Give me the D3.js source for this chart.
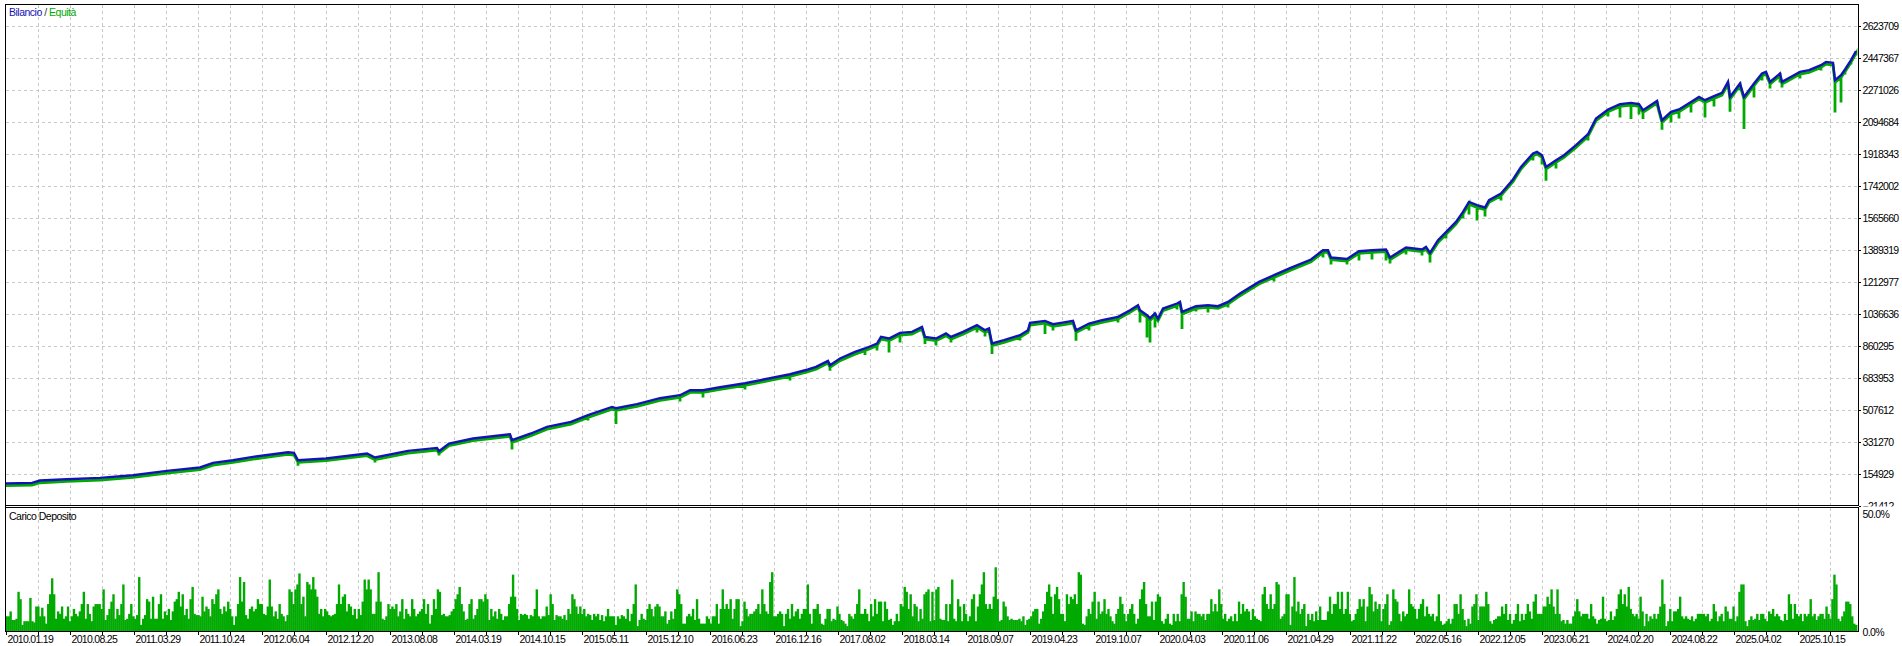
<!DOCTYPE html>
<html><head><meta charset="utf-8">
<script src="https://cdn.jsdelivr.net/npm/d3@7"></script>
<style>body{margin:0;background:#fff;overflow:hidden}svg{display:block}</style>
</head><body>
<svg id="c" width="1902" height="646"></svg>
<script>
// ---- data ----
const trades = [0,26,34,61,94,127,161,194,207,227,247,267,282,288,292,320,361,369,402,431,
433,443,467,504,506,525,541,565,582,606,610,631,654,674,684,697,714,739,764,784,
802,810,822,824,834,849,859,871,875,883,894,906,916,919,930,940,945,957,971,979,
983,986,998,1014,1022,1024,1039,1047,1055,1067,1070,1083,1096,1112,1124,1132,1134,1141,1144,1149,
1152,1157,1171,1174,1176,1190,1202,1212,1222,1234,1253,1268,1284,1305,1317,1322,1325,1341,1353,1366,
1380,1384,1400,1416,1420,1424,1432,1440,1450,1457,1463,1471,1479,1483,1495,1507,1515,1527,1531,1536,
1540,1550,1558,1570,1582,1590,1602,1614,1625,1633,1637,1651,1653,1656,1665,1673,1685,1693,1699,1708,
1716,1722,1724,1734,1738,1748,1756,1760,1764,1774,1776,1782,1794,1803,1815,1820,1827,1829,1835,1839,
1845,1850];
const balance = [100000,103000,116000,123500,130700,145600,169300,188000,213300,228200,246400,261300,272300,268400,228200,237600,265100,243100,279500,296000,
277800,320200,347800,371500,338400,375400,411700,439300,476200,521900,514800,536800,569900,586400,614000,614000,630500,652500,680100,702100,
728000,742400,775400,751700,788700,825000,843800,871300,907700,898900,929700,935200,962800,907700,898900,926400,907700,935200,972200,944600,
954000,871300,889500,917100,944600,984800,995900,977700,984800,995900,944600,981500,999700,1017900,1054800,1082400,1054800,1027300,1010700,1036600,
1009100,1064200,1091700,1100600,1045500,1076900,1082400,1076900,1100600,1146800,1210800,1247700,1286300,1334200,1385500,1385500,1345200,1337500,1379900,1385500,
1389300,1345200,1400300,1389300,1403600,1370600,1440600,1484700,1541400,1596500,1651600,1633400,1620800,1661000,1697900,1775100,1844500,1918300,1927200,1909000,
1844500,1881400,1909000,1964100,2024700,2111200,2160800,2190000,2197200,2190000,2157000,2208200,2160800,2101800,2147600,2160800,2202700,2230200,2212100,2234100,
2252300,2312900,2230200,2304100,2230200,2304100,2359200,2368000,2312900,2359200,2312900,2331600,2368000,2377400,2404900,2423100,2417600,2322300,2349800,2381200,
2432500,2482100];
const equity = [100000,103000,116000,123500,123500,145600,162100,188000,213300,228200,246400,261300,272300,268400,210000,237600,265100,228200,279500,296000,
266800,320200,347800,371500,299900,375400,411700,439300,459700,521900,439300,536800,569900,564400,614000,586400,630500,630500,680100,680100,
728000,742400,775400,733500,788700,825000,819400,845400,907700,834400,889500,935200,962800,880100,873000,926400,889500,935200,944600,922600,
954000,825000,889500,900500,944600,984800,935200,955600,984800,995900,898900,955600,999700,999700,1054800,1082400,999700,917100,889500,972200,
1009100,1064200,1071400,1100600,962800,1060300,1054800,1076900,1082400,1146800,1210800,1225600,1286300,1334200,1357900,1385500,1319300,1319300,1341400,1346900,
1341400,1324800,1374400,1368900,1403600,1330400,1440600,1462600,1541400,1572800,1594900,1561800,1583800,1661000,1672000,1775100,1844500,1892400,1927200,1870400,
1780600,1848400,1909000,1964100,2002700,2111200,2134900,2129400,2120000,2145900,2120000,2190000,2160800,2061600,2101800,2123900,2157000,2230200,2129400,2190000,
2252300,2312900,2160800,2278200,2064900,2239600,2333300,2368000,2289200,2322300,2294700,2331600,2344300,2377400,2388400,2423100,2417600,2157000,2212100,2366400,
2421500,2471100];
const yTicks = [-21412,154929,331270,507612,683953,860295,1036636,1212977,1389319,1565660,1742002,1918343,2094684,2271026,2447367,2623709];
const dateLabels = ["2010.01.19","2010.08.25","2011.03.29","2011.10.24","2012.06.04","2012.12.20","2013.08.08","2014.03.19","2014.10.15","2015.05.11",
"2015.12.10","2016.06.23","2016.12.16","2017.08.02","2018.03.14","2018.09.07","2019.04.23","2019.10.07","2020.04.03","2020.11.06",
"2021.04.29","2021.11.22","2022.05.16","2022.12.05","2023.06.21","2024.02.20","2024.08.22","2025.04.02","2025.10.15"];
const loadTicks = [0, 50];
const loadPct = [
6,6,8,4.5,4.5,5,16,13,2.5,4,4,4,13.5,4,3.5,10,10,6,9.5,6,3,11,15,21.5,15,5,8,7,10,5,6,10,4,6,9,7,6,8,11,16,5,11,7,4,10,11,11,11,9,17,4.5,6.5,9,12,15,5,9,6.5,11,19,4.5,5,7,11,6,5,6.5,22,2.5,5,6.5,13,12,5,14,5,5,11,15,5,8,6.5,9,4.5,8,12,13,16,10,15,6.5,9,5,13,18,7,6.5,6.5,6,14,8,10,9,6,13,11,15,17,9,7,10,8,12,9,6,2.5,6,11,22,12,20,6.5,5,9,10,8,9,13,11,11,7,6.5,10,21,10,6,8,5,11,7,6,4,6.5,17,16,11,17,19,23.5,11,14,6,20,19,17,22,17,14,7,9,6,9,8,6.5,6,6.5,7,11,19,11,14,15,8,11,10,6.5,9,5,9,6.5,12,21,17,21,17,7,7,12,24,12,5,4.5,6,11,9,10,9,11,6,8,13,5,9,7,6,13,9,6,7,8,9,13,7,11,3,6.5,13,9,17,16,6.5,7,6,6,6.5,8,9,13,15,18,11,8,4.5,5,11,13,5,6.5,9,13,13,12,15,13,4.5,9,6,8,5,9,7,4.5,6,6,11,14,23,14,9,4.5,7,6.5,7,6.5,5,6.5,6,9,17,6,5,6,6,10,6.5,15,11,4.5,6.5,6,6,5,6.5,4.5,9,7,15,13,10,7,10,7,9,6,7,6.5,4.5,7,6,7,4.5,6.5,4,6,9,6,6,6,2.5,6,5,6.5,6,5,
9,4,7,11,19,2,4.5,7,5,4.5,9,11,9,6,10,11,10,6,6,8,3,4.5,8,5,9,17,15,11,3,3,6,7,6,9,4.5,13,5,3,3,3,6,5,3,6,6,11,3,9,17,9,11,9,13,5,9,13,13,2,4,12,9,6,7,7,8,9,11,7,17,11,8,7,20,24,6,6,7,8,7,2,7,9,5,11,6,8,9,5,7,9,9,19,7,3,9,9,11,7,3,2.5,5,9,9,4,5,4.5,10,7,4.5,4,3,2,7,6,5,7,11,17,7,7,9,7,4,11,6,13,7,12,12,4,12,9,4.5,5,2.5,4,7,4,11,10,18,16,9,15,6,11,10,4,9,5,15,16,17,4,16,4.5,17,18,5,4.5,4.5,11,4,11,21,5,4,13,10,4,11,7,4,6,13,15,4,10,15,19,24,11,9,11,9,14,26,13,4,4.5,12,10,6,4.5,5,4.5,4.5,4.5,5,4,6,2.5,4.5,5,6,8,9,9,3,5,8,11,16,19,14,7,15,18,13,7,7,4,15,11,14,13,15,11,24,23,3,2.5,6,9,7,12,16,5,12,7,8,13,7,9,6,4,3,7,9,14,11,7,4,7,9,11,7,3,5,13,17,20,11,6,6,12,4.5,12,15,14,4,3,5,7,3,2.5,7,4,7,4,15,20,14,5,5,8,4,8,7,7,6,7,4.5,7,7,13,8,11,8,17,11,5,7,4,5,6,4,7,4,12,7,11,
8,9,8,4.5,9,6,5,4.5,4,15,18,11,9,15,9,11,20,19,5,6,7,15,15,2.5,10,22,8,12,7,9,11,2,7,4.5,7,4,8,4.5,10,4.5,4.5,4.5,8,14,7,11,11,16,9,16,7,9,16,7,4,4.5,7,9,13,10,13,4,10,18,15,8,12,9,11,4,9,11,15,2.5,4,17,13,12,7,4,8,6,7,17,11,10,9,5,9,11,13,6,10,7,6,7,4,6,15,4,2.5,3,4,5,3,5,11,11,7,15,9,4.5,2,5,3,10,11,15,4.5,10,10,10,16,11,4,3,4.5,5,6,6,10,7,11,4.5,7,3,4.5,7,11,4,7,4.5,7,11,8,5,12,15,7,7,7,10,10,14,11,17,10,7,17,7,4,4.5,3,4.5,3,3,6,8,13,8,6,7,7,7,5,11,6,5,3,4.5,5,14,5,4,4.5,8,4.5,6,9,15,17,11,15,10,18,9,7,6,7,5,14,8,2,7,4,6,5,7,5,7,10,21,11,2,4,9,4,8,8,9,14,6,5,6,5,4.5,6,4,5,7,7,7,7,6,7,4,5,11,8,4,6,7,4,10,8,5,5,10,4,6,16,19,19,4,2,4.5,6,4.5,5,7,4.5,7,7,5,4,8,7,9,6,7,6,4.5,4,7,4.5,15,11,5,11,7,6,7,4,7,6,7,13,6,7,4.5,6,7,7,5,10,7,5,13,23,19,5,4,6,8,12,12,11,6,3,2.5];

// ---- layout ----
const svg = d3.select("#c");
const FONT = "'Liberation Sans', Arial, sans-serif";
const nTrades = 1852;
const x = d3.scaleLinear().domain([0, nTrades]).range([6, 1858]);
const y = d3.scaleLinear().domain([yTicks[0], yTicks[yTicks.length-1]]).range([505.5, 25.5]);
const ys = d3.scaleLinear().domain([0, 50]).range([631, 508.5]);
const xb = d3.scaleLinear().domain([0, loadPct.length]).range([5.5, 1857]);
const gridTrades = d3.range(32, nTrades, 32);
const tickTrades = d3.range(0, nTrades, 32);
const labelTrades = d3.range(0, dateLabels.length).map(i => i*64);

svg.append("rect").attr("width",1902).attr("height",646).attr("fill","#fff");

const defs = svg.append("defs");
defs.append("clipPath").attr("id","mainClip").append("rect").attr("x",6).attr("y",5).attr("width",1852).attr("height",500);
defs.append("clipPath").attr("id","lblClip").append("rect").attr("x",1859).attr("y",0).attr("width",43).attr("height",506.5);

const gridStyle = g => g.attr("stroke","#c8c8c8").attr("stroke-width",1).attr("stroke-dasharray","3,3").attr("shape-rendering","crispEdges");

// main grid
const gm = svg.append("g").call(gridStyle);
gm.selectAll("line.v").data(gridTrades).join("line").attr("class","v")
  .attr("x1",d=>Math.round(x(d))+0.5).attr("x2",d=>Math.round(x(d))+0.5).attr("y1",5).attr("y2",505);
gm.selectAll("line.h").data(yTicks.slice(1)).join("line").attr("class","h")
  .attr("x1",6).attr("x2",1858).attr("y1",d=>Math.round(y(d))+0.5).attr("y2",d=>Math.round(y(d))+0.5);
// sub grid
const gs = svg.append("g").call(gridStyle);
gs.selectAll("line").data(gridTrades).join("line")
  .attr("x1",d=>Math.round(x(d))+0.5).attr("x2",d=>Math.round(x(d))+0.5).attr("y1",508).attr("y2",631);

// equity (green) and balance (blue)
const pts = trades.map((t,i)=>({t, b:balance[i], e:equity[i]}));
const eqPath = [];
pts.forEach(p => { eqPath.push([p.t,p.b]); if (p.e < p.b) { eqPath.push([p.t,p.e]); eqPath.push([p.t,p.b]); } });
const line = d3.line().x(d=>x(d[0])).y(d=>y(d[1]));
const gc = svg.append("g").attr("clip-path","url(#mainClip)");
gc.append("path").attr("d", line(eqPath)).attr("fill","none").attr("stroke","#00aa00")
  .attr("stroke-width",2.8).attr("stroke-linejoin","miter").attr("transform","translate(0,2.2)");
gc.append("path").attr("d", line(pts.map(p=>[p.t,p.b]))).attr("fill","none").attr("stroke","#1414b4")
  .attr("stroke-width",2.4).attr("stroke-linejoin","miter");

// deposit load bars
svg.append("g").selectAll("rect").data(loadPct).join("rect")
  .attr("x",(d,i)=>xb(i)).attr("width",(d,i)=>xb(i+1)-xb(i)+0.4)
  .attr("y",d=>ys(d)).attr("height",d=>ys(0)-ys(d)).attr("fill","#00aa00");

// frames
const fr = svg.append("g").attr("fill","none").attr("stroke","#000").attr("stroke-width",1).attr("shape-rendering","crispEdges");
fr.append("rect").attr("x",5.5).attr("y",4.5).attr("width",1853).attr("height",501);
fr.append("rect").attr("x",5.5).attr("y",507.5).attr("width",1853).attr("height",124);
fr.append("line").attr("x1",5.5).attr("x2",5.5).attr("y1",4).attr("y2",632).attr("stroke-width",1.6);

// right axis ticks and labels (main)
const ax = svg.append("g");
ax.selectAll("line").data(yTicks).join("line")
  .attr("x1",1859).attr("x2",1861).attr("y1",d=>Math.round(y(d))+0.5).attr("y2",d=>Math.round(y(d))+0.5)
  .attr("stroke","#000").attr("shape-rendering","crispEdges");
ax.append("g").attr("clip-path","url(#lblClip)").selectAll("text").data(yTicks).join("text")
  .attr("x",1862.5).attr("y",d=>y(d)+0.5).attr("dominant-baseline","central")
  .attr("font-family",FONT).attr("font-size",10.5).attr("letter-spacing","-0.7px").attr("fill","#000")
  .text(d=>d3.format("d")(d));

// sub axis labels
svg.append("g").selectAll("text").data(loadTicks).join("text")
  .attr("x",1862.5).attr("y",d=> d===50 ? ys(d)+5.5 : ys(d)+0.5).attr("dominant-baseline","central")
  .attr("font-family",FONT).attr("font-size",10.5).attr("letter-spacing","-0.6px").attr("fill","#000")
  .text(d=>d3.format(".1f")(d)+"%");

// bottom ticks and date labels
const bx = svg.append("g");
bx.selectAll("line").data(tickTrades).join("line")
  .attr("x1",d=>Math.round(x(d))+0.5).attr("x2",d=>Math.round(x(d))+0.5).attr("y1",632).attr("y2",635)
  .attr("stroke","#000").attr("shape-rendering","crispEdges");
bx.selectAll("text").data(labelTrades).join("text")
  .attr("x",d=>x(d)+1.5).attr("y",642.5)
  .attr("font-family",FONT).attr("font-size",10.5).attr("letter-spacing","-0.7px").attr("fill","#000")
  .text((d,i)=>dateLabels[i]);

// titles
const lg = svg.append("text").attr("x",9).attr("y",15.5).attr("font-family",FONT).attr("font-size",10.5).attr("letter-spacing","-0.5px");
lg.append("tspan").attr("fill","#1414b4").text("Bilancio");
lg.append("tspan").attr("fill","#333").text(" / ");
lg.append("tspan").attr("fill","#00aa00").text("Equità");
svg.append("text").attr("x",9).attr("y",520).attr("font-family",FONT).attr("font-size",10.5).attr("letter-spacing","-0.5px")
  .attr("fill","#000").text("Carico Deposito");
</script>
</body></html>
